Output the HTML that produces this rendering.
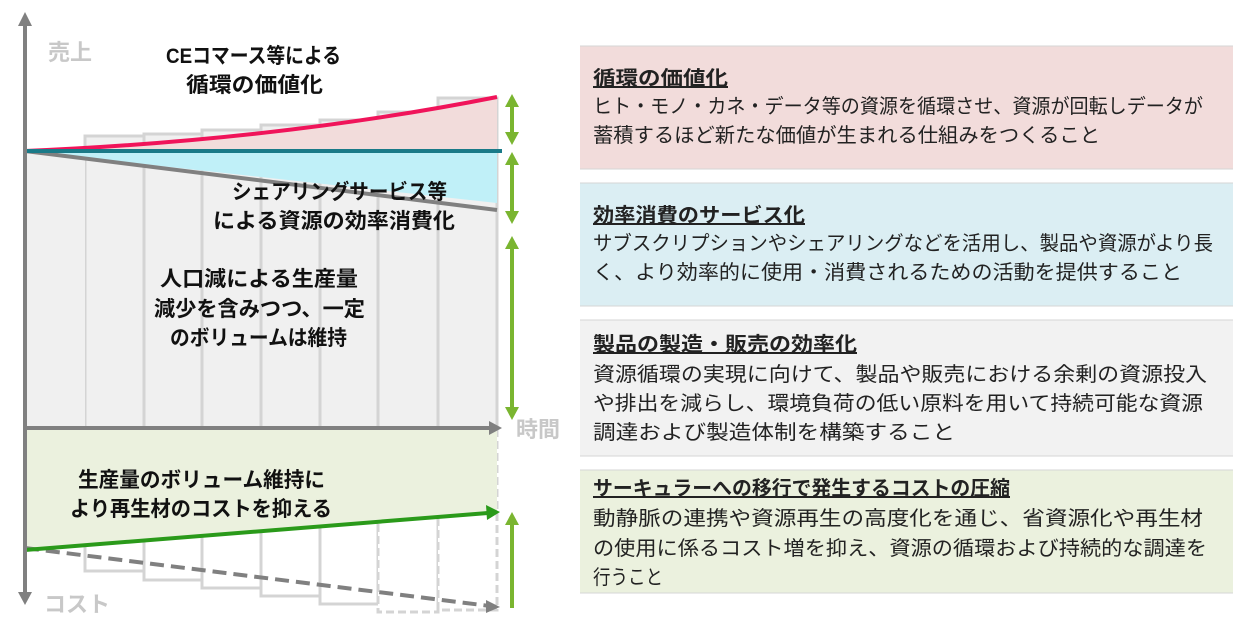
<!DOCTYPE html>
<html><head><meta charset="utf-8"><style>
html,body{margin:0;padding:0;background:#fff;}
body{width:1255px;height:623px;position:relative;overflow:hidden;}
svg{position:absolute;left:0;top:0;}
</style></head><body>
<svg width="1255" height="623" viewBox="0 0 1255 623" font-family="Liberation Sans, Noto Sans CJK JP, sans-serif">
<!-- right boxes -->
<rect x="580" y="46" width="653" height="123" fill="#f2dcdb"/>
<rect x="580" y="183" width="653" height="123" fill="#dbeef3"/>
<rect x="580" y="320" width="653" height="136" fill="#f2f2f2"/>
<rect x="580" y="470" width="653" height="123" fill="#ebf1de"/>
<g stroke="#d6d6d6" stroke-width="1">
<line x1="580" y1="169" x2="1233" y2="169"/><line x1="580" y1="306" x2="1233" y2="306"/>
<line x1="580" y1="456" x2="1233" y2="456"/><line x1="580" y1="593" x2="1233" y2="593"/>
<line x1="580" y1="46" x2="1233" y2="46"/><line x1="580" y1="183" x2="1233" y2="183"/>
<line x1="580" y1="320" x2="1233" y2="320"/><line x1="580" y1="470" x2="1233" y2="470"/>
</g>
<g font-size="20" fill="#222" lengthAdjust="spacingAndGlyphs">
<text x="593" y="85" font-weight="bold" text-decoration="underline" textLength="135" lengthAdjust="spacingAndGlyphs">循環の価値化</text>
<text x="593" y="113" textLength="610" lengthAdjust="spacingAndGlyphs">ヒト・モノ・カネ・データ等の資源を循環させ、資源が回転しデータが</text>
<text x="593" y="142" textLength="507" lengthAdjust="spacingAndGlyphs">蓄積するほど新たな価値が生まれる仕組みをつくること</text>
<text x="593" y="222" font-weight="bold" text-decoration="underline" textLength="212" lengthAdjust="spacingAndGlyphs">効率消費のサービス化</text>
<text x="593" y="250" textLength="620" lengthAdjust="spacingAndGlyphs">サブスクリプションやシェアリングなどを活用し、製品や資源がより長</text>
<text x="593" y="279" textLength="589" lengthAdjust="spacingAndGlyphs">く、より効率的に使用・消費されるための活動を提供すること</text>
<text x="593" y="351" font-weight="bold" text-decoration="underline" textLength="264" lengthAdjust="spacingAndGlyphs">製品の製造・販売の効率化</text>
<text x="593" y="381" textLength="614" lengthAdjust="spacingAndGlyphs">資源循環の実現に向けて、製品や販売における余剰の資源投入</text>
<text x="593" y="410" textLength="610" lengthAdjust="spacingAndGlyphs">や排出を減らし、環境負荷の低い原料を用いて持続可能な資源</text>
<text x="593" y="439" textLength="362" lengthAdjust="spacingAndGlyphs">調達および製造体制を構築すること</text>
<text x="593" y="495" font-weight="bold" text-decoration="underline" textLength="417" lengthAdjust="spacingAndGlyphs">サーキュラーへの移行で発生するコストの圧縮</text>
<text x="593" y="525" textLength="610" lengthAdjust="spacingAndGlyphs">動静脈の連携や資源再生の高度化を通じ、省資源化や再生材</text>
<text x="593" y="555" textLength="614" lengthAdjust="spacingAndGlyphs">の使用に係るコスト増を抑え、資源の循環および持続的な調達を</text>
<text x="593" y="584" textLength="70" lengthAdjust="spacingAndGlyphs">行うこと</text>
</g>
<!-- bars upper -->
<g fill="#f0f0f0" stroke="#d4d4d4" stroke-width="3">
<rect x="85" y="136" width="59" height="292"/>
<rect x="144" y="134" width="58" height="294"/>
<rect x="202" y="130" width="59" height="298"/>
<rect x="261" y="125" width="59" height="303"/>
<rect x="320" y="120" width="58" height="308"/>
<rect x="378" y="112" width="60" height="316"/>
<rect x="438" y="98" width="59" height="330"/>
</g>
<rect x="25" y="151" width="60" height="277" fill="#f0f0f0"/>
<path d="M25,151 Q280,140 497,97 L497,151 Z" fill="#f2dcdb"/>
<path d="M25,151 L497,151 L497,203 L25,151 Z" fill="#c0f0f8"/>
<path d="M25,151 L497,210" stroke="#808080" stroke-width="4" fill="none"/>
<path d="M25,151 Q280,140 497,97" stroke="#f0145a" stroke-width="4" fill="none"/>
<line x1="25" y1="151" x2="502" y2="151" stroke="#1a7a88" stroke-width="4"/>
<!-- lower bars -->
<g fill="#fff" stroke="#d4d4d4" stroke-width="3">
<rect x="85" y="428" width="59" height="143"/>
<rect x="144" y="428" width="58" height="152"/>
<rect x="202" y="428" width="59" height="160"/>
<rect x="261" y="428" width="59" height="168"/>
<rect x="320" y="428" width="58" height="176"/>
</g>
<g fill="#fff" stroke="#d4d4d4" stroke-width="3" stroke-dasharray="8,4">
<rect x="378" y="428" width="60" height="184"/>
<rect x="438" y="428" width="59" height="182"/>
</g>
<path d="M25,428 L497,428 L497,512 L25,550 Z" fill="#ebf1de"/>
<line x1="25" y1="548" x2="490" y2="606" stroke="#808080" stroke-width="4" stroke-dasharray="14,7"/>
<polygon points="500,607 486,600 486,613" fill="#808080"/>
<line x1="25" y1="550" x2="488" y2="513" stroke="#2a9a1a" stroke-width="4"/>
<polygon points="500,512 486,505 487,520" fill="#2a9a1a"/>
<!-- axes -->
<line x1="25" y1="22" x2="25" y2="595" stroke="#808080" stroke-width="4"/>
<polygon points="25,12 18,26 32,26" fill="#808080"/>
<polygon points="25,605 18,592 32,592" fill="#808080"/>
<line x1="25" y1="428" x2="492" y2="428" stroke="#808080" stroke-width="4"/>
<polygon points="502,428 489,421 489,435" fill="#808080"/>
<!-- green arrows -->
<g stroke="#7ab530" stroke-width="4" fill="#7ab530">
<line x1="512" y1="104" x2="512" y2="136"/>
<polygon points="512,94 505,107 519,107" stroke="none"/>
<polygon points="512,145 505,132 519,132" stroke="none"/>
<line x1="512" y1="162" x2="512" y2="214"/>
<polygon points="512,152 505,165 519,165" stroke="none"/>
<polygon points="512,224 505,211 519,211" stroke="none"/>
<line x1="512" y1="246" x2="512" y2="410"/>
<polygon points="512,236 505,249 519,249" stroke="none"/>
<polygon points="512,420 505,407 519,407" stroke="none"/>
<line x1="512" y1="522" x2="512" y2="608"/>
<polygon points="512,512 505,525 519,525" stroke="none"/>
</g>
<text x="48" y="60" font-size="22" font-weight="bold" fill="#c8c8c8">売上</text>
<text x="516" y="437" font-size="22" font-weight="bold" fill="#c8c8c8">時間</text>
<text x="44" y="612" font-size="22" font-weight="bold" fill="#c8c8c8">コスト</text>
<g font-size="21" font-weight="bold" fill="#111">
<text x="166" y="63" textLength="175" lengthAdjust="spacingAndGlyphs">CEコマース等による</text>
<text x="186" y="92" textLength="137" lengthAdjust="spacingAndGlyphs">循環の価値化</text>
<text x="232" y="199" textLength="215" lengthAdjust="spacingAndGlyphs">シェアリングサービス等</text>
<text x="213" y="228" textLength="242" lengthAdjust="spacingAndGlyphs">による資源の効率消費化</text>
<text x="160" y="286" textLength="198" lengthAdjust="spacingAndGlyphs">人口減による生産量</text>
<text x="154" y="316" textLength="211" lengthAdjust="spacingAndGlyphs">減少を含みつつ、一定</text>
<text x="170" y="345" textLength="177" lengthAdjust="spacingAndGlyphs">のボリュームは維持</text>
<text x="78" y="487" textLength="247" lengthAdjust="spacingAndGlyphs">生産量のボリューム維持に</text>
<text x="70" y="516" textLength="262" lengthAdjust="spacingAndGlyphs">より再生材のコストを抑える</text>
</g>
</svg>
</body></html>
